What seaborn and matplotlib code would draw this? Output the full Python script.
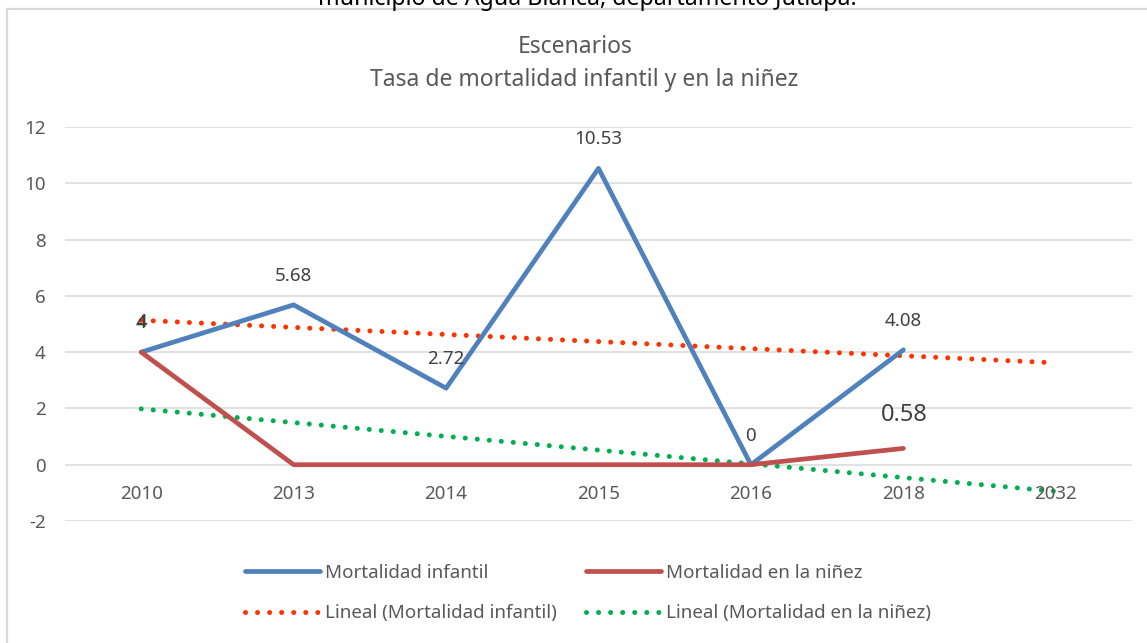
import numpy as np
import matplotlib
matplotlib.use("Agg")
import matplotlib.pyplot as plt
import seaborn as sns
from matplotlib.patches import Rectangle

categories = ["2010", "2013", "2014", "2015", "2016", "2018", "2032"]
infantil = [4, 5.68, 2.72, 10.53, 0, 4.08]
ninez = [4, 0, 0, 0, 0, 0.58]
infantil_labels = ["4", "5.68", "2.72", "10.53", "0", "4.08"]
ninez_labels = ["4", "", "", "", "", "0.58"]
yticks = [-2, 0, 2, 4, 6, 8, 10, 12]

sns.set_theme(style="white")
plt.rcParams["font.family"] = ["Noto Sans", "DejaVu Sans"]

W, H = 1147, 643
fig = plt.figure(figsize=(W / 100, H / 100), dpi=100)
ax = fig.add_axes([65 / W, 1 - 521 / H, (1132 - 65) / W, (521 - 127) / H])

BLUE = "#4F81BD"
RED = "#C0504D"
ORANGE = "#FF3300"
GREEN = "#00B050"
TXT = "#595959"
FS = 13.5

x_data = np.arange(len(infantil))
x_all = np.arange(len(categories))

# linear trend lines (as Excel: fitted on data, forecast one period forward)
p_inf = np.polyfit(x_data, infantil, 1)
p_nin = np.polyfit(x_data, ninez, 1)
trend_inf = np.polyval(p_inf, x_all)
trend_nin = np.polyval(p_nin, x_all)

for y in yticks:
    ax.axhline(y, color="#d9d9d9", lw=1.1, zorder=0)

dots = (0, (0.01, 2.4))
sns.lineplot(x=x_all, y=trend_inf, ax=ax, color=ORANGE, lw=3.6,
             linestyle=dots, dash_capstyle="round", zorder=2,
             label="Lineal (Mortalidad infantil)")
sns.lineplot(x=x_all, y=trend_nin, ax=ax, color=GREEN, lw=3.6,
             linestyle=dots, dash_capstyle="round", zorder=2,
             label="Lineal (Mortalidad en la niñez)")
sns.lineplot(x=x_data, y=infantil, ax=ax, color=BLUE, lw=3.4,
             solid_capstyle="round", solid_joinstyle="round", zorder=3,
             label="Mortalidad infantil")
sns.lineplot(x=x_data, y=ninez, ax=ax, color=RED, lw=3.4,
             solid_capstyle="round", solid_joinstyle="round", zorder=3,
             label="Mortalidad en la niñez")

for xi, yi, lab in zip(x_data, infantil, infantil_labels):
    if lab:
        ax.annotate(lab, (xi, yi), xytext=(0, 21), textcoords="offset points",
                    ha="center", va="center", fontsize=FS, color="#404040", zorder=5)
for xi, yi, lab in zip(x_data, ninez, ninez_labels):
    if lab:
        fs = FS if xi == 0 else 17
        off = 22 if xi == 0 else 24
        ax.annotate(lab, (xi, yi), xytext=(0.6, off), textcoords="offset points",
                    ha="center", va="center", fontsize=fs, color="#404040", zorder=5)

ax.set_xlim(-0.5, len(categories) - 0.5)
ax.set_ylim(-2, 12)
ax.set_yticks(yticks)
ax.set_yticklabels([str(v) for v in yticks], fontsize=FS, color=TXT)
ax.tick_params(axis="y", length=0, pad=14)
ax.set_xticks([])
for xi, lab in zip(x_all, categories):
    ax.annotate(lab, (xi, 0), xytext=(0, -21), textcoords="offset points",
                ha="center", va="center", fontsize=FS, color=TXT)
for s in ax.spines.values():
    s.set_visible(False)
ax.set_xlabel("")
ax.set_ylabel("")

handles, labels = ax.get_legend_handles_labels()
order = [2, 0, 3, 1]
leg = ax.legend([handles[i] for i in order], [labels[i] for i in order],
                ncol=2, loc="center", bbox_to_anchor=(588 / W, 1 - 593 / H),
                bbox_transform=fig.transFigure, frameon=False, fontsize=FS,
                handlelength=4.0, handletextpad=0.25, columnspacing=1.6,
                labelspacing=1.2, labelcolor=TXT)

fig.text(575 / W, 1 - 47 / H, "Escenarios", ha="center", va="center",
         fontsize=16.5, color=TXT)
fig.text(584 / W, 1 - 80 / H, "Tasa de mortalidad infantil y en la niñez",
         ha="center", va="center", fontsize=16.5, color=TXT)
fig.text(587 / W, 1 - 5 / H, "municipio de Agua Blanca, departamento Jutiapa.",
         ha="center", va="baseline", fontsize=16.7, color="black")

fig.patches.append(Rectangle((7 / W, -0.1), 1.2, 1.1 - 9 / H,
                             transform=fig.transFigure, fill=False,
                             edgecolor="#d9d9d9", lw=1.6, zorder=0))

fig.savefig("out.png", dpi=100, facecolor="white")
